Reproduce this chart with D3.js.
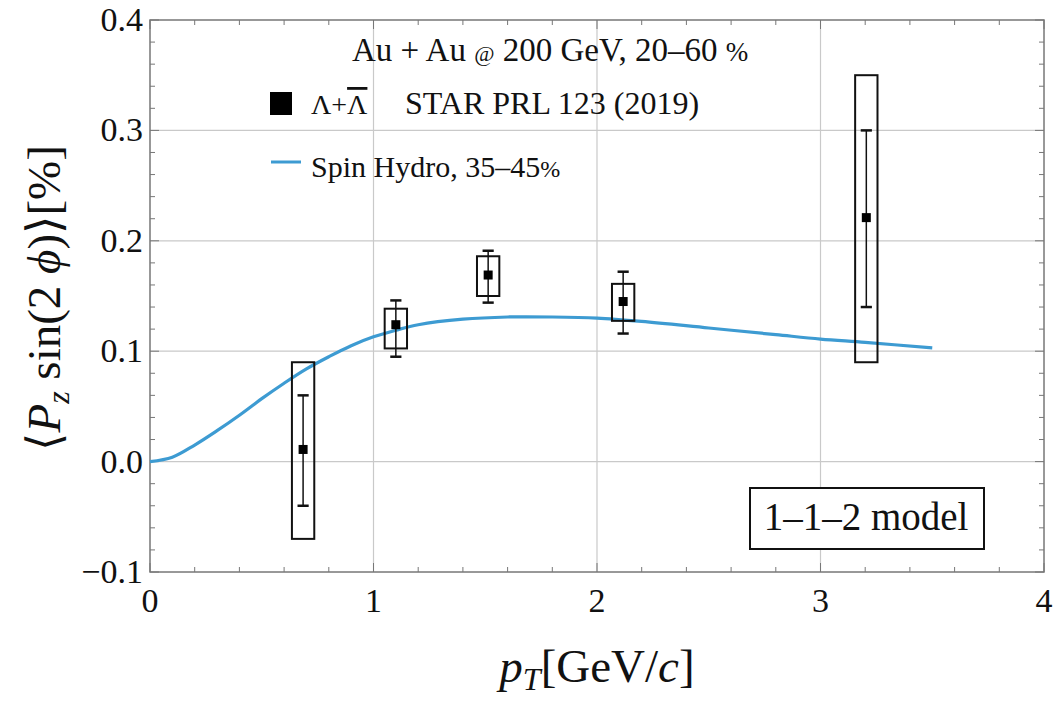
<!DOCTYPE html>
<html>
<head>
<meta charset="utf-8">
<script src="https://cdn.jsdelivr.net/npm/d3@7"></script>
<style>
  body { margin: 0; background: #fff; }
  svg text { font-family: "Liberation Serif", "DejaVu Serif", serif; fill: #111; }
</style>
</head>
<body>
<div id="chart"></div>
<script>
(function () {
  "use strict";

  /***** Données *****/
  // STAR Lambda + anti-Lambda
  var ptData   = [0.685, 1.10, 1.513, 2.117, 3.205];
  var valData  = [0.011, 0.124, 0.169, 0.145, 0.221];
  var statLo   = [-0.040, 0.095, 0.144, 0.116, 0.140];
  var statHi   = [0.060, 0.146, 0.191, 0.172, 0.300];
  var sysLo    = [-0.070, 0.1025, 0.150, 0.1275, 0.090];
  var sysHi    = [0.090, 0.1385, 0.186, 0.161, 0.350];

  // Spin Hydro 35-45%
  var curveX = [0, 0.1, 0.2, 0.3, 0.4, 0.5, 0.6, 0.7, 0.8, 0.9, 1.0, 1.1, 1.2, 1.4, 1.6, 1.8, 2.0, 2.2, 2.5, 2.8, 3.0, 3.2, 3.5];
  var curveY = [0, 0.004, 0.015, 0.028, 0.042, 0.057, 0.071, 0.084, 0.095, 0.105, 0.113, 0.119, 0.124, 0.129, 0.131, 0.131, 0.130, 0.127, 0.121, 0.115, 0.111, 0.108, 0.103];

  var xTicks = [0, 1, 2, 3, 4];
  var yTicks = [-0.1, 0.0, 0.1, 0.2, 0.3, 0.4];

  /***** Configuration *****/
  var width = 1060, height = 701;
  var margin = {top: 20, right: 16, bottom: 129, left: 150};
  var w = width - margin.left - margin.right,
      h = height - margin.top - margin.bottom;

  var x = d3.scaleLinear().domain([0, 4]).range([0, w]);
  var y = d3.scaleLinear().domain([-0.1, 0.4]).range([h, 0]);

  var svg = d3.select("#chart").append("svg")
    .attr("width", width)
    .attr("height", height);

  var g = svg.append("g")
    .attr("transform", "translate(" + margin.left + "," + margin.top + ")");

  // grille
  g.selectAll(".vgrid").data([1, 2, 3]).enter().append("line")
    .attr("x1", d => x(d)).attr("x2", d => x(d))
    .attr("y1", 0).attr("y2", h)
    .attr("stroke", "#c9c9c9").attr("stroke-width", 1.2);
  g.selectAll(".hgrid").data([0.0, 0.1, 0.2, 0.3]).enter().append("line")
    .attr("y1", d => y(d)).attr("y2", d => y(d))
    .attr("x1", 0).attr("x2", w)
    .attr("stroke", "#c9c9c9").attr("stroke-width", 1.2);

  // graduations (vers l'intérieur, sur les quatre côtés)
  var xMinor = d3.range(0, 4.001, 0.2);
  var yMinor = d3.range(-0.1, 0.4001, 0.02);
  var tickCol = "#777";
  function isMajor(v, step) { return Math.abs(v / step - Math.round(v / step)) < 1e-6; }

  xMinor.forEach(function (v) {
    var len = isMajor(v, 1) ? 9 : 5;
    g.append("line").attr("x1", x(v)).attr("x2", x(v)).attr("y1", h).attr("y2", h - len)
      .attr("stroke", tickCol).attr("stroke-width", 1);
    g.append("line").attr("x1", x(v)).attr("x2", x(v)).attr("y1", 0).attr("y2", len)
      .attr("stroke", tickCol).attr("stroke-width", 1);
  });
  yMinor.forEach(function (v) {
    var len = isMajor(v, 0.1) ? 9 : 5;
    g.append("line").attr("y1", y(v)).attr("y2", y(v)).attr("x1", 0).attr("x2", len)
      .attr("stroke", tickCol).attr("stroke-width", 1);
    g.append("line").attr("y1", y(v)).attr("y2", y(v)).attr("x1", w).attr("x2", w - len)
      .attr("stroke", tickCol).attr("stroke-width", 1);
  });

  // cadre
  g.append("rect").attr("width", w).attr("height", h)
    .attr("fill", "none").attr("stroke", "#777").attr("stroke-width", 1.5);

  // étiquettes des axes
  g.selectAll(".xlab").data(xTicks).enter().append("text")
    .attr("x", d => x(d)).attr("y", h + 40)
    .attr("text-anchor", "middle").attr("font-size", 34)
    .text(d => d);
  g.selectAll(".ylab").data(yTicks).enter().append("text")
    .attr("x", -7).attr("y", d => y(d) + 11)
    .attr("text-anchor", "end").attr("font-size", 34)
    .text(d => (d < 0 ? "\u2212" : "") + Math.abs(d).toFixed(1));

  // titre axe x
  var xt = svg.append("text")
    .attr("x", 597).attr("y", 682)
    .attr("text-anchor", "middle").attr("font-size", 47);
  xt.append("tspan").attr("font-style", "italic").text("p");
  xt.append("tspan").attr("font-style", "italic").attr("font-size", 32).attr("dy", 8).text("T");
  xt.append("tspan").attr("dy", -8).text("[GeV/");
  xt.append("tspan").attr("font-style", "italic").text("c");
  xt.append("tspan").text("]");

  // titre axe y
  var yt = svg.append("text")
    .attr("transform", "translate(60,298) rotate(-90)")
    .attr("text-anchor", "middle").attr("font-size", 47);
  yt.append("tspan").text("\u27E8");
  yt.append("tspan").attr("font-style", "italic").text("P");
  yt.append("tspan").attr("font-style", "italic").attr("font-size", 32).attr("dy", 9).text("z");
  yt.append("tspan").attr("dy", -9).text(" sin(2 ");
  yt.append("tspan").attr("font-style", "italic").text("\u03D5");
  yt.append("tspan").text(")\u27E9[%]");

  // courbe
  var line = d3.line()
    .x(d => x(d[0])).y(d => y(d[1]))
    .curve(d3.curveCatmullRom.alpha(0.5));
  var curveColor = "#3d9bd2";
  g.append("path")
    .datum(curveX.map((v, i) => [v, curveY[i]]))
    .attr("d", line)
    .attr("fill", "none").attr("stroke", curveColor).attr("stroke-width", 3.2);

  // données STAR
  var pts = ptData.map(function (v, i) {
    return {x: v, y: valData[i], lo: statLo[i], hi: statHi[i], slo: sysLo[i], shi: sysHi[i]};
  });
  var box = 0.05, cap = 0.025;
  var pg = g.selectAll(".pt").data(pts).enter().append("g");
  pg.append("rect")
    .attr("x", d => x(d.x - box)).attr("width", d => x(d.x + box) - x(d.x - box))
    .attr("y", d => y(d.shi)).attr("height", d => y(d.slo) - y(d.shi))
    .attr("fill", "none").attr("stroke", "#111").attr("stroke-width", 2);
  pg.append("line")
    .attr("x1", d => x(d.x)).attr("x2", d => x(d.x))
    .attr("y1", d => y(d.lo)).attr("y2", d => y(d.hi))
    .attr("stroke", "#111").attr("stroke-width", 1.5);
  pg.append("line")
    .attr("x1", d => x(d.x - cap)).attr("x2", d => x(d.x + cap))
    .attr("y1", d => y(d.lo)).attr("y2", d => y(d.lo))
    .attr("stroke", "#111").attr("stroke-width", 2.5);
  pg.append("line")
    .attr("x1", d => x(d.x - cap)).attr("x2", d => x(d.x + cap))
    .attr("y1", d => y(d.hi)).attr("y2", d => y(d.hi))
    .attr("stroke", "#111").attr("stroke-width", 2.5);
  pg.append("rect")
    .attr("x", d => x(d.x) - 4.5).attr("y", d => y(d.y) - 4.5)
    .attr("width", 9).attr("height", 9)
    .attr("fill", "#000");

  // légende
  svg.append("text").attr("x", 352).attr("y", 61).attr("font-size", 33)
    .html('Au + Au <tspan font-size="22">@</tspan> 200 GeV, 20\u201360 <tspan font-size="27">%</tspan>');
  svg.append("rect").attr("x", 270).attr("y", 92).attr("width", 22).attr("height", 23).attr("fill", "#000");
  var l2 = svg.append("text").attr("x", 311).attr("y", 114).attr("font-size", 32);
  l2.append("tspan").attr("font-size", 28).text("\u039B+");
  l2.append("tspan").attr("font-size", 28).attr("text-decoration", "overline").text("\u039B");
  l2.append("tspan").attr("x", 405).text("STAR PRL 123 (2019)");
  svg.append("line").attr("x1", 271).attr("x2", 301).attr("y1", 162).attr("y2", 162)
    .attr("stroke", curveColor).attr("stroke-width", 3);
  svg.append("text").attr("x", 311).attr("y", 177).attr("font-size", 30)
    .html('Spin Hydro, 35\u201345<tspan font-size="24">%</tspan>');

  // boîte du modèle
  svg.append("rect").attr("x", 750).attr("y", 488).attr("width", 234).attr("height", 61)
    .attr("fill", "#fff").attr("stroke", "#111").attr("stroke-width", 2);
  svg.append("text").attr("x", 866).attr("y", 530).attr("text-anchor", "middle").attr("font-size", 39)
    .text("1\u20131\u20132 model");
})();
</script>
</body>
</html>
